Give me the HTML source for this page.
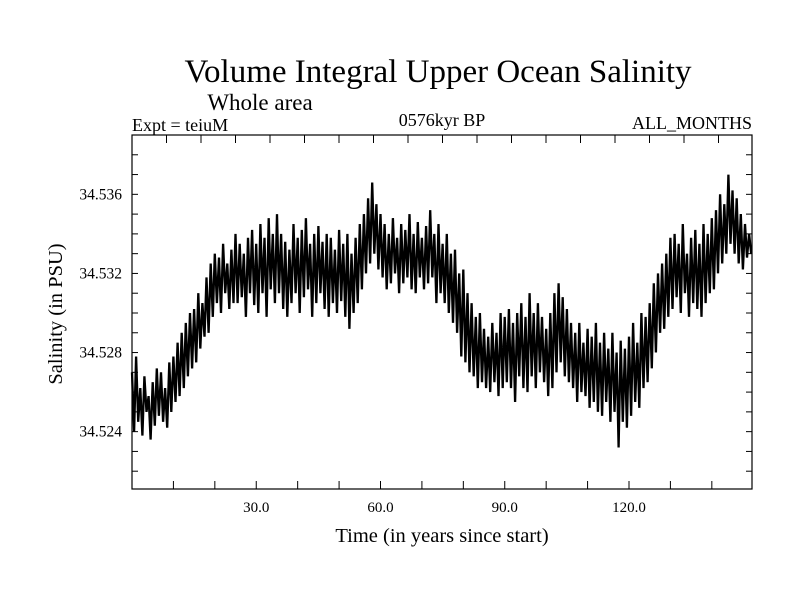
<!DOCTYPE html>
<html><head><meta charset="utf-8"><style>
body{margin:0;background:#fff}
svg text{font-family:"Liberation Serif",serif;fill:#000}
</style></head><body>
<svg id="chart" width="800" height="600" viewBox="0 0 800 600">
<rect width="800" height="600" fill="#fff"/>
<text x="438" y="82" font-size="33" text-anchor="middle">Volume Integral Upper Ocean Salinity</text>
<text x="260" y="110" font-size="23" text-anchor="middle">Whole area</text>
<text x="132" y="131" font-size="18">Expt = teiuM</text>
<text x="442" y="126" font-size="18" text-anchor="middle">0576kyr BP</text>
<text x="752" y="129" font-size="18" text-anchor="end">ALL_MONTHS</text>
<text transform="translate(62,314) rotate(-90)" font-size="20.5" text-anchor="middle">Salinity (in PSU)</text>
<text x="442" y="542" font-size="20.5" text-anchor="middle">Time (in years since start)</text>
<g id="ticks"></g>
<g id="labels"></g>
<path id="series" fill="none" stroke="#000" stroke-width="2.3"/>
<rect x="132" y="135" width="620" height="354" fill="none" stroke="#000" stroke-width="1.2"/>
</svg>
<script>
const xTickLabels = [30, 60, 90, 120];
const yTickLabels = [34.524, 34.528, 34.532, 34.536];
const timeStep = 0.5;
const salinity = [
34.5270,34.5240,34.5278,34.5245,34.5262,34.5238,34.5268,34.5250,34.5258,34.5236,
34.5265,34.5243,34.5272,34.5248,34.5270,34.5245,34.5262,34.5242,34.5275,34.5250,
34.5278,34.5255,34.5285,34.5258,34.5290,34.5262,34.5295,34.5268,34.5300,34.5272,
34.5302,34.5275,34.5310,34.5282,34.5305,34.5288,34.5318,34.5290,34.5325,34.5298,
34.5330,34.5305,34.5328,34.5300,34.5335,34.5310,34.5325,34.5302,34.5332,34.5305,
34.5340,34.5305,34.5335,34.5308,34.5330,34.5298,34.5338,34.5310,34.5342,34.5304,
34.5335,34.5300,34.5345,34.5310,34.5338,34.5298,34.5348,34.5312,34.5340,34.5305,
34.5350,34.5310,34.5340,34.5302,34.5336,34.5298,34.5332,34.5305,34.5345,34.5310,
34.5338,34.5300,34.5342,34.5308,34.5348,34.5312,34.5335,34.5298,34.5340,34.5305,
34.5344,34.5310,34.5336,34.5302,34.5340,34.5298,34.5338,34.5305,34.5332,34.5300,
34.5342,34.5306,34.5335,34.5298,34.5340,34.5292,34.5330,34.5300,34.5338,34.5305,
34.5345,34.5312,34.5350,34.5320,34.5358,34.5325,34.5366,34.5330,34.5355,34.5322,
34.5350,34.5318,34.5345,34.5312,34.5340,34.5315,34.5348,34.5320,34.5338,34.5310,
34.5345,34.5315,34.5342,34.5318,34.5350,34.5312,34.5340,34.5310,34.5346,34.5318,
34.5338,34.5312,34.5344,34.5315,34.5352,34.5318,34.5340,34.5305,34.5345,34.5310,
34.5335,34.5305,34.5340,34.5300,34.5330,34.5295,34.5332,34.5290,34.5320,34.5278,
34.5322,34.5275,34.5310,34.5270,34.5305,34.5268,34.5298,34.5262,34.5300,34.5265,
34.5292,34.5262,34.5288,34.5260,34.5295,34.5265,34.5290,34.5258,34.5300,34.5262,
34.5298,34.5265,34.5302,34.5262,34.5295,34.5255,34.5300,34.5268,34.5305,34.5262,
34.5298,34.5260,34.5310,34.5268,34.5300,34.5262,34.5305,34.5270,34.5298,34.5265,
34.5292,34.5258,34.5300,34.5262,34.5310,34.5270,34.5315,34.5275,34.5308,34.5268,
34.5302,34.5265,34.5295,34.5262,34.5290,34.5255,34.5295,34.5260,34.5285,34.5258,
34.5292,34.5252,34.5288,34.5255,34.5295,34.5250,34.5285,34.5248,34.5290,34.5255,
34.5282,34.5245,34.5290,34.5250,34.5280,34.5232,34.5286,34.5245,34.5282,34.5242,
34.5288,34.5248,34.5295,34.5255,34.5285,34.5252,34.5300,34.5262,34.5298,34.5265,
34.5305,34.5272,34.5315,34.5280,34.5320,34.5290,34.5325,34.5292,34.5330,34.5298,
34.5338,34.5302,34.5340,34.5308,34.5335,34.5300,34.5345,34.5310,34.5330,34.5298,
34.5338,34.5305,34.5342,34.5302,34.5335,34.5298,34.5345,34.5305,34.5340,34.5310,
34.5348,34.5312,34.5352,34.5320,34.5360,34.5325,34.5355,34.5330,34.5370,34.5335,
34.5362,34.5330,34.5358,34.5325,34.5350,34.5322,34.5345,34.5328,34.5340,34.5330
];
const X0=132,X1=752,Y0=489,Y1=135;
const xMin=0,xMax=149.7,yMin=34.5211,yMax=34.5390;
function sx(v){return X0+(v-xMin)/(xMax-xMin)*(X1-X0);}
function sy(v){return Y0-(v-yMin)/(yMax-yMin)*(Y0-Y1);}
const NS="http://www.w3.org/2000/svg";
let d="";
salinity.forEach((v,i)=>{d+=(i?"L":"M")+sx(i*timeStep).toFixed(1)+","+sy(v).toFixed(1);});
document.getElementById("series").setAttribute("d",d);
const tg=document.getElementById("ticks"),lg=document.getElementById("labels");
function line(x1,y1,x2,y2){const l=document.createElementNS(NS,"line");
l.setAttribute("x1",x1);l.setAttribute("y1",y1);l.setAttribute("x2",x2);l.setAttribute("y2",y2);
l.setAttribute("stroke","#000");l.setAttribute("stroke-width","1");


tg.appendChild(l);}
for(let t=10;t<xMax;t+=10){const x=sx(t);line(x,Y0,x,Y0-8);}
for(let x=X0+34.5;x<X1;x+=34.5){line(x,Y1,x,Y1+8);}
for(let v=34.522;v<yMax;v+=0.001){const y=sy(v);line(X0,y,X0+6,y);line(X1,y,X1-6,y);}
xTickLabels.forEach(v=>{const t=document.createElementNS(NS,"text");
t.setAttribute("x",sx(v));t.setAttribute("y",512);t.setAttribute("font-size","15");t.setAttribute("text-anchor","middle");
t.textContent=v.toFixed(1);


lg.appendChild(t);});
yTickLabels.forEach(v=>{const t=document.createElementNS(NS,"text");
t.setAttribute("x",122);t.setAttribute("y",sy(v)+5);t.setAttribute("font-size","15.5");t.setAttribute("text-anchor","end");
t.textContent=v.toFixed(3);


lg.appendChild(t);});
</script>
</body></html>
